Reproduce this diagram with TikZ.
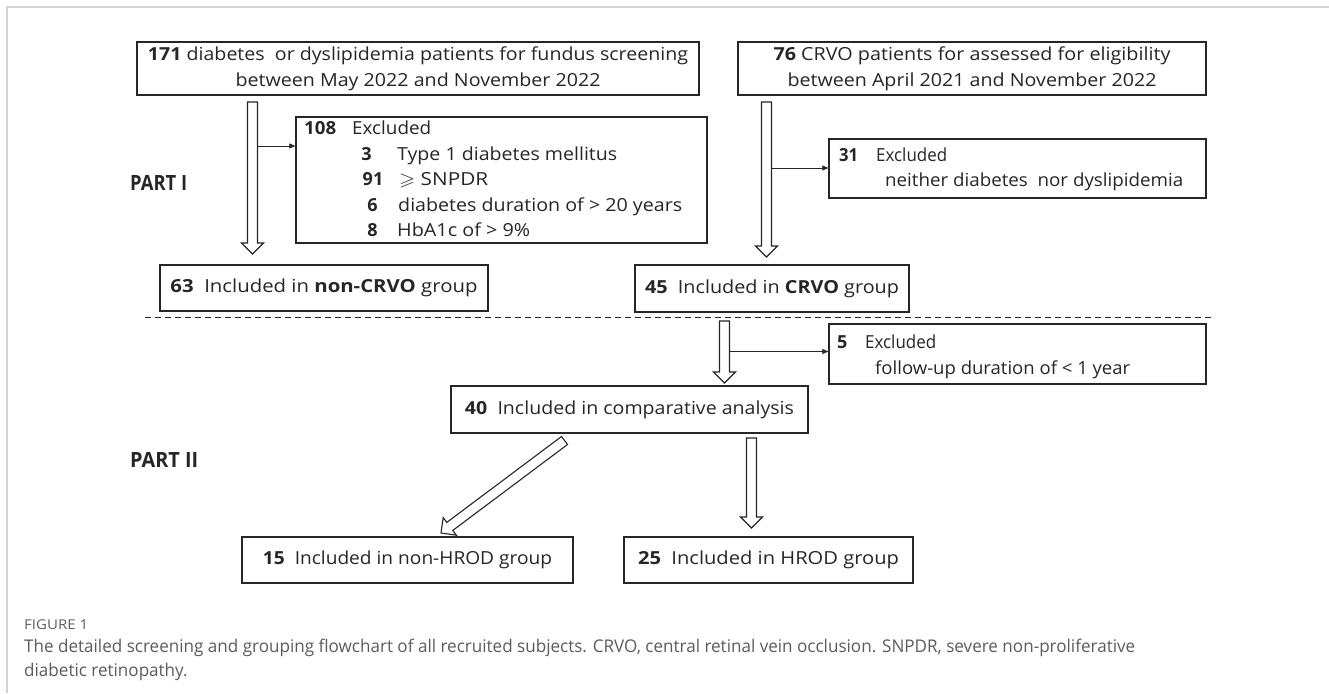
\documentclass[tikz,border=0pt]{standalone}
\usepackage{fontspec}
\usepackage{amssymb}
\usepackage{graphicx}
\setmainfont{Open Sans}
\newfontfamily\capfont[FakeStretch=0.86]{Open Sans}
\usetikzlibrary{calc,arrows.meta}
\definecolor{ln}{HTML}{262626}
\definecolor{capgray}{HTML}{5C5C5C}
\definecolor{framegray}{HTML}{D2D2D2}
\newcommand{\mainsz}{\fontsize{18}{26}\selectfont}
\newcommand{\fitw}[2]{\resizebox{#1}{\height}{#2}}
\newcommand{\blockarr}[3]{%
  \coordinate (#3h) at ($(#2)!11pt!(#1)$);
  \draw[barrow] ($(#1)!5pt!90:(#2)$) -- ($(#3h)!5pt!90:(#2)$) -- ($(#3h)!11pt!90:(#2)$) -- (#2)
     -- ($(#3h)!11pt!-90:(#2)$) -- ($(#3h)!5pt!-90:(#2)$) -- ($(#1)!5pt!-90:(#2)$) -- cycle;}
\tikzset{
  box/.style={draw=ln, line width=1.3pt, rectangle, inner sep=0pt, align=center, font=\mainsz, text=ln},
  txt/.style={inner sep=0pt, font=\mainsz, text=ln, text height=13pt, text depth=4pt},
  barrow/.style={draw=ln, line width=1.1pt, fill=white, line join=miter},
  thinarrow/.style={draw=ln, line width=0.7pt, -{Triangle[length=6pt,width=5pt]}},
  partlbl/.style={inner sep=0pt, font=\fontsize{21}{24}\selectfont\bfseries, text=ln},
  sep/.style={draw=ln, line width=1.2pt, dash pattern=on 6pt off 4pt},
  captxt/.style={inner sep=0pt, text=capgray}
}
\begin{document}
\begin{tikzpicture}[x=1pt,y=1pt]
\useasboundingbox (0,0) rectangle (1329,-693);
\fill[white] (0,0) rectangle (1329,-693);
\draw[framegray, line width=1.5pt] (7,-693) -- (7,-7) -- (1329,-7);

% top boxes
\node[box, minimum width=562pt, minimum height=53pt] (A) at (418,-68.5)
  {\fitw{540pt}{\textbf{171} diabetes\ \ or dyslipidemia patients for fundus screening}\\\fitw{365pt}{between May 2022 and November 2022}};
\node[box, minimum width=468pt, minimum height=53pt] (B) at (972,-68.5)
  {\fitw{397pt}{\textbf{76} CRVO patients for assessed for eligibility}\\\fitw{369pt}{between April 2021 and November 2022}};

% exclusion box 1
\node[box, minimum width=411pt, minimum height=126pt] (E1) at (501.5,-180) {};
\node[txt, anchor=west] (e1n) at (304,-130) {\fitw{32pt}{\textbf{108}}};
\node[txt, anchor=west] (e1t) at (352,-130) {\fitw{79pt}{Excluded}};
\node[txt] (e1a) at (366.5,-156) {\textbf{3}};
\node[txt, anchor=west] (e1at) at (397,-156) {\fitw{220pt}{Type 1 diabetes mellitus}};
\node[txt] (e1b) at (373,-181) {\textbf{91}};
\node[txt, anchor=west] (e1bt) at (399,-181) {\fitw{89pt}{$\geqslant$ SNPDR}};
\node[txt] (e1c) at (372.5,-207) {\textbf{6}};
\node[txt, anchor=west] (e1ct) at (398,-207) {\fitw{284pt}{diabetes duration of > 20 years}};
\node[txt] (e1d) at (372.5,-232) {\textbf{8}};
\node[txt, anchor=west] (e1dt) at (397,-232) {\fitw{133pt}{HbA1c of > 9\%}};

% exclusion box 2
\node[box, minimum width=377pt, minimum height=59pt] (E2) at (1017.5,-168.5) {};
\node[txt, anchor=west] (e2n) at (839,-157) {\fitw{19pt}{\textbf{31}}};
\node[txt, anchor=west] (e2t) at (876,-157) {\fitw{71pt}{Excluded}};
\node[txt, anchor=west] (e2a) at (885,-182) {\fitw{298pt}{neither diabetes\ \ nor dyslipidemia}};

% included boxes part I
\node[box, minimum width=328pt, minimum height=46pt] (NC) at (324,-288)
  {\fitw{307pt}{\textbf{63}\ \ Included in \textbf{non-CRVO} group}};
\node[box, minimum width=274pt, minimum height=47pt] (C) at (772,-288.5)
  {\fitw{254pt}{\textbf{45}\ \ Included in \textbf{CRVO} group}};

% separator
\coordinate (d1) at (145,-317.5);
\coordinate (d2) at (1212,-317.5);
\draw[sep] (d1) -- (d2);

% exclusion box 3
\node[box, minimum width=377pt, minimum height=60pt] (E3) at (1017.5,-354) {};
\node[txt, anchor=west] (e3n) at (837,-344) {\textbf{5}};
\node[txt, anchor=west] (e3t) at (865,-344) {\fitw{71pt}{Excluded}};
\node[txt, anchor=west] (e3a) at (875,-370) {\fitw{255pt}{follow-up duration of < 1 year}};

% part II boxes
\node[box, minimum width=357pt, minimum height=47pt] (CA) at (629.5,-409.5)
  {\fitw{329pt}{\textbf{40}\ \ Included in comparative analysis}};
\node[box, minimum width=331pt, minimum height=46pt] (NH) at (407.5,-560)
  {\fitw{289pt}{\textbf{15}\ \ Included in non-HROD group}};
\node[box, minimum width=289pt, minimum height=46pt] (H) at (768.5,-560)
  {\fitw{261pt}{\textbf{25}\ \ Included in HROD group}};

% part labels
\node[partlbl, anchor=west] (P1) at (130,-183) {\fitw{57pt}{PART I}};
\node[partlbl, anchor=west] (P2) at (130,-460) {\fitw{68pt}{PART II}};

% block arrows
\coordinate (a1t) at (252.5,-102);
\coordinate (a1p) at (252.5,-254);
\blockarr{a1t}{a1p}{a1}
\coordinate (a2t) at (766.5,-102);
\coordinate (a2p) at (766.5,-257);
\blockarr{a2t}{a2p}{a2}
\coordinate (a3t) at (724.5,-321);
\coordinate (a3p) at (724.5,-383);
\blockarr{a3t}{a3p}{a3}
\coordinate (a4t) at (564.5,-440.5);
\coordinate (a4p) at (441,-533);
\blockarr{a4t}{a4p}{a4}
\coordinate (a5t) at (751.5,-438);
\coordinate (a5p) at (751.5,-528);
\blockarr{a5t}{a5p}{a5}

% thin arrows
\coordinate (s1) at (257.5,-146);
\draw[thinarrow] (s1) -- (E1.west |- s1);
\coordinate (s2) at (771.5,-168);
\draw[thinarrow] (s2) -- (E2.west |- s2);
\coordinate (s3) at (729.5,-351.5);
\draw[thinarrow] (s3) -- (E3.west |- s3);

% caption
\node[captxt, anchor=west, font=\fontsize{13.5}{16}\selectfont] (fig) at (24,-625)
  {\fitw{64pt}{FIGURE 1}};
\node[captxt, anchor=north west, font=\capfont\fontsize{17.5}{24}\selectfont] (cap) at (24,-635)
  {\resizebox{1111pt}{\height}{\begin{tabular}{@{}l@{}}The detailed screening and grouping flowchart of all recruited subjects. CRVO, central retinal vein occlusion. SNPDR, severe non-proliferative\\diabetic retinopathy.\end{tabular}}};
\end{tikzpicture}
\end{document}
